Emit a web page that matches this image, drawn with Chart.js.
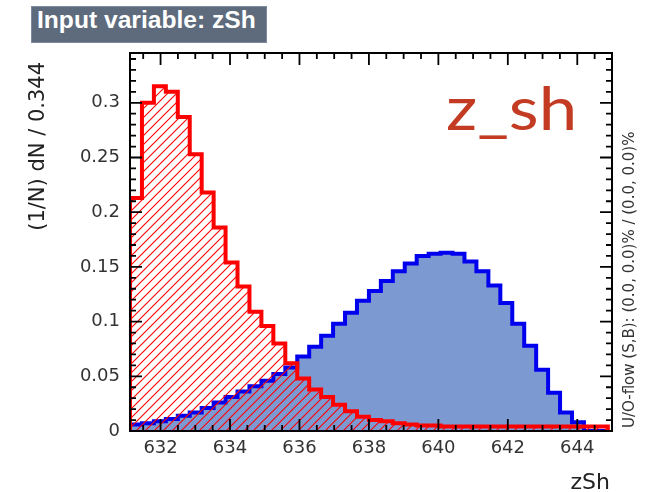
<!DOCTYPE html>
<html>
<head>
<meta charset="utf-8">
<title>Input variable: zSh</title>
<script src="https://cdn.jsdelivr.net/npm/chart.js@4.4.1/dist/chart.umd.min.js"></script>
<style>
  html, body { margin: 0; padding: 0; background: #fff; }
  #wrap { position: relative; width: 649px; height: 492px; overflow: hidden; }
  #plot { position: absolute; left: 0; top: 0; }
  #title-box {
    position: absolute; left: 31px; top: 6px; width: 236px; height: 37px;
    box-sizing: border-box; background: #5d6b7d; border: 1px solid #7d8b9d;
  }
  #title-box span {
    position: absolute; left: 5px; top: 0; line-height: 35px; color: #fff;
    font: bold 23px "Liberation Sans", Arial, sans-serif; white-space: nowrap;
    transform: scaleX(1.07); transform-origin: 0 50%;
  }
  #tag {
    position: absolute; left: 446px; top: 77px; color: #c23b22;
    font: 60px Lato, sans-serif; line-height: 1; white-space: nowrap;
    transform: scaleX(1.15); transform-origin: 0 0;
  }
</style>
</head>
<body>
<div id="wrap">
  <canvas id="plot" width="649" height="492"></canvas>
  <div id="title-box"><span>Input variable: zSh</span></div>
  <div id="tag">z_sh</div>
</div>
<script>
// binning: 40 bins, width taken from the axis title (dN / 0.344)
const BIN_LOW = 631.12;
const BIN_WIDTH = 0.344;
const X_RANGE = [631.12, 645.0];
const Y_RANGE = [0, 0.3455];

// tick labels
const X_TICKS = [632, 634, 636, 638, 640, 642, 644];
const Y_TICKS = [0, 0.05, 0.1, 0.15, 0.2, 0.25, 0.3];

// signal (blue, filled) - per bin
const signalValues = [
  0.006, 0.007, 0.009, 0.011, 0.014, 0.017, 0.021, 0.026, 0.031, 0.036,
  0.041, 0.046, 0.052, 0.058, 0.068, 0.077, 0.087, 0.098, 0.108, 0.119,
  0.128, 0.137, 0.146, 0.153, 0.160, 0.162, 0.163, 0.162, 0.155, 0.146,
  0.133, 0.117, 0.098, 0.078, 0.056, 0.035, 0.017, 0.008, 0, 0
];

// background (red, hatched)
const backgroundValues = [
  0.213, 0.300, 0.315, 0.310, 0.287, 0.253, 0.218, 0.186, 0.154, 0.132,
  0.109, 0.096, 0.080, 0.062, 0.048, 0.038, 0.031, 0.024, 0.018, 0.013,
  0.010, 0.009, 0.007, 0.006, 0.005, 0.005, 0.004, 0.004, 0.004, 0.004,
  0.004, 0.004, 0.004, 0.004, 0.004, 0.004, 0.004, 0.004, 0.004, 0.004
];

// turn bin contents into points for a step outline
function histPoints(values) {
  const pts = [{ x: BIN_LOW, y: 0 }];
  values.forEach((v, i) => pts.push({ x: BIN_LOW + i * BIN_WIDTH, y: v }));
  pts.push({ x: BIN_LOW + values.length * BIN_WIDTH, y: 0 });
  return pts;
}

function hatch(color, gap) {
  const c = document.createElement('canvas');
  c.width = gap;
  c.height = gap;
  const g = c.getContext('2d');
  g.strokeStyle = color;
  g.lineWidth = 1.1;
  g.beginPath();
  g.moveTo(-1, gap + 1); g.lineTo(gap + 1, -1);
  g.moveTo(-1, 1); g.lineTo(1, -1);
  g.moveTo(gap - 1, gap + 1); g.lineTo(gap + 1, gap - 1);
  g.stroke();
  return g.createPattern(c, 'repeat');
}

// ROOT-like frame: box, inward ticks on all four sides, axis titles
const rootFrame = {
  id: 'rootFrame',
  afterDatasetsDraw(chart) {
    const { ctx, chartArea: a, scales: { x, y } } = chart;
    ctx.save();
    ctx.strokeStyle = '#000';
    ctx.lineWidth = 2;
    ctx.strokeRect(a.left, a.top, a.right - a.left, a.bottom - a.top);

    ctx.lineWidth = 1.8;
    ctx.beginPath();
    for (let v = 631.5; v < X_RANGE[1] - 0.01; v += 0.5) {
      const px = x.getPixelForValue(v);
      const len = Math.abs(v % 2) < 1e-6 ? 12 : 6;
      ctx.moveTo(px, a.bottom); ctx.lineTo(px, a.bottom - len);
      ctx.moveTo(px, a.top); ctx.lineTo(px, a.top + len);
    }
    for (let i = 1; i * 0.01 < Y_RANGE[1]; i++) {
      const py = y.getPixelForValue(i * 0.01);
      const len = i % 5 === 0 ? 12 : 6;
      ctx.moveTo(a.left, py); ctx.lineTo(a.left + len, py);
      ctx.moveTo(a.right, py); ctx.lineTo(a.right - len, py);
    }
    ctx.stroke();

    ctx.fillStyle = '#222';
    ctx.font = '21px "DejaVu Sans"';
    ctx.save();
    ctx.translate(39, 62);
    ctx.rotate(-Math.PI / 2);
    ctx.textAlign = 'right';
    ctx.textBaseline = 'middle';
    ctx.fillText('(1/N) dN / 0.344', 0, 0);
    ctx.restore();

    ctx.font = '22px "DejaVu Sans"';
    ctx.textAlign = 'right';
    ctx.textBaseline = 'alphabetic';
    ctx.fillText('zSh', 610, 489);

    ctx.fillStyle = '#333';
    ctx.font = '15px "DejaVu Sans"';
    ctx.translate(630, 428);
    ctx.rotate(-Math.PI / 2);
    ctx.textAlign = 'left';
    ctx.textBaseline = 'middle';
    ctx.fillText('U/O-flow (S,B): (0.0, 0.0)% / (0.0, 0.0)%', 0, 0);
    ctx.restore();
  }
};

const tickFont = { family: 'DejaVu Sans', size: 18 };

new Chart(document.getElementById('plot'), {
  type: 'line',
  data: {
    datasets: [
      {
        label: 'Background',
        data: histPoints(backgroundValues),
        stepped: 'before',
        borderColor: '#ff0000',
        borderWidth: 4,
        borderJoinStyle: 'miter',
        backgroundColor: hatch('#ff0000', 9),
        fill: 'origin',
        pointRadius: 0
      },
      {
        label: 'Signal',
        data: histPoints(signalValues),
        stepped: 'before',
        borderColor: '#0000ee',
        borderWidth: 4,
        borderJoinStyle: 'miter',
        backgroundColor: '#7d99d1',
        fill: 'origin',
        pointRadius: 0
      }
    ]
  },
  options: {
    responsive: false,
    animation: false,
    layout: { padding: { top: 53, right: 37, left: 0, bottom: 0 } },
    plugins: {
      legend: { display: false },
      tooltip: { enabled: false }
    },
    scales: {
      x: {
        type: 'linear',
        min: X_RANGE[0],
        max: X_RANGE[1],
        grid: { display: false, drawTicks: false },
        border: { display: false },
        afterBuildTicks: s => { s.ticks = X_TICKS.map(v => ({ value: v })); },
        afterFit: s => { s.height = 61; },
        ticks: {
          font: tickFont,
          color: '#333',
          padding: 7,
          maxRotation: 0,
          autoSkip: false,
          callback: v => String(v)
        }
      },
      y: {
        min: Y_RANGE[0],
        max: Y_RANGE[1],
        grid: { display: false, drawTicks: false },
        border: { display: false },
        afterBuildTicks: s => { s.ticks = Y_TICKS.map(v => ({ value: v })); },
        afterFit: s => { s.width = 130; },
        ticks: {
          font: tickFont,
          color: '#333',
          padding: 10,
          autoSkip: false,
          callback: v => String(Math.round(v * 100) / 100)
        }
      }
    }
  },
  plugins: [rootFrame]
});
</script>
</body>
</html>
